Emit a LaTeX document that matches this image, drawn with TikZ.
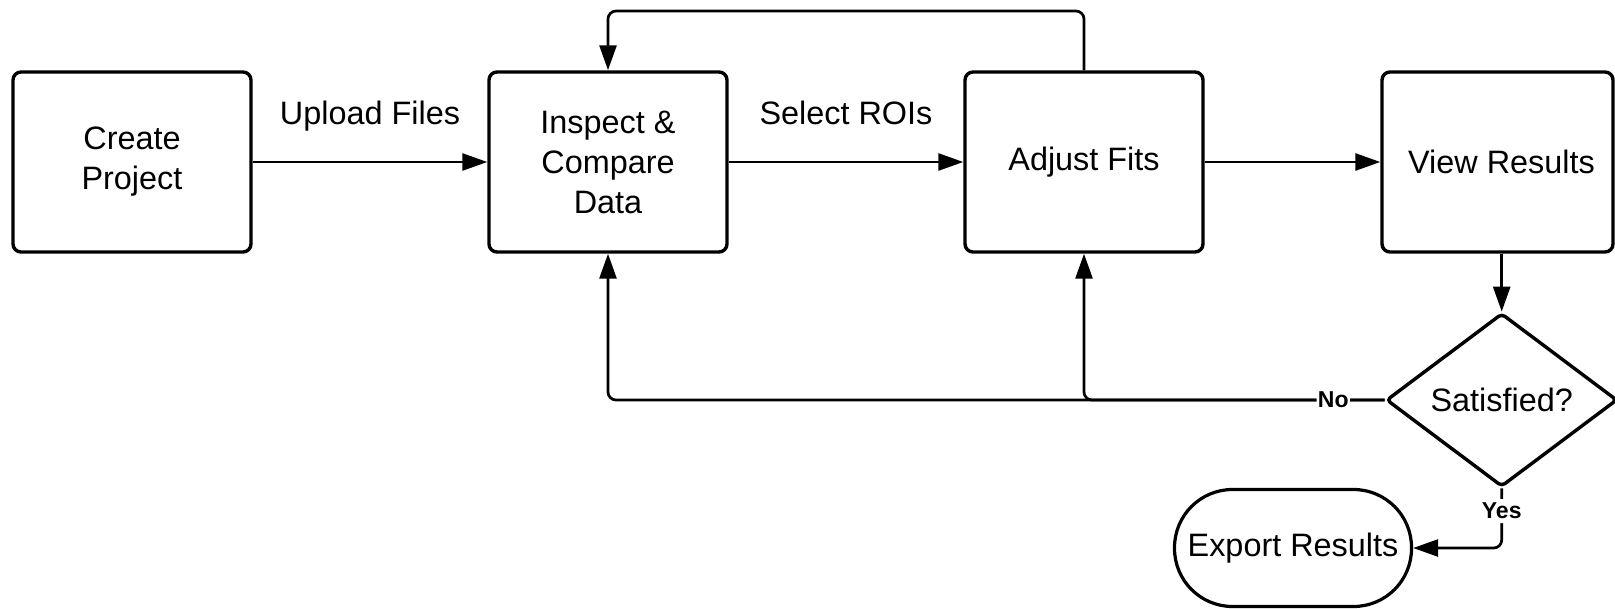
\documentclass[tikz,border=0pt]{standalone}
\usepackage{fontspec}
\setmainfont{Liberation Sans}
\usetikzlibrary{arrows.meta,shapes.geometric}

\begin{document}
\begin{tikzpicture}[x=0.5pt,y=-0.5pt,
  txt/.style={font=\fontsize{16.2}{20}\selectfont},
  stepbox/.style={txt, draw, line width=1.7pt, rounded corners=4pt,
    minimum width=119pt, minimum height=90pt, align=center, inner sep=2pt},
  decision/.style={txt, diamond, draw, line width=1.7pt, rounded corners=2pt,
    minimum width=115.5pt, minimum height=86.7pt, aspect=1.33, inner sep=0pt},
  terminal/.style={txt, draw, line width=1.6pt, rounded corners=29pt,
    minimum width=118.5pt, minimum height=58.5pt},
  conn/.style={line width=1.35pt, rounded corners=4pt,
    -{Triangle[length=12.5pt,width=8.5pt]}},
  flowlabel/.style={txt, anchor=base, yshift=18.5pt},
  answer/.style={font=\bfseries\fontsize{11.5}{13}\selectfont, fill=white,
    inner xsep=0.6pt, inner ysep=2pt},
]
\useasboundingbox (0,0) rectangle (1615,609);

% process steps
\node[stepbox] (create)  at (132,162)  {Create\\Project};
\node[stepbox] (inspect) at (608,162)  {Inspect \&\\Compare\\Data};
\node[stepbox] (adjust)  at (1084,162) {Adjust Fits};
\node[stepbox, minimum width=115.5pt] (view) at (1497.5,162) {\hspace*{4pt}View Results};
\node[decision] (sat) at (1501.7,400) {Satisfied?};
\node[terminal] (export) at (1293,548) {Export Results};
\coordinate (top) at (0,11);

% main flow
\draw[conn] (create) -- node[flowlabel, midway] (upl) {Upload Files} (inspect);
\draw[conn] (inspect) -- node[flowlabel, midway] (roi) {Select ROIs} (adjust);
\draw[conn] (adjust) -- (view);
\draw[conn] (view.south -| sat.north) -- (sat.north);

% loop back from the fits to the data
\draw[conn] (adjust.north) -- (adjust.north |- top) -- (inspect.north |- top) -- (inspect.north);

% decision outcomes
\draw[conn] (sat.west) -| (adjust.south);
\draw[conn] (sat.west) -| node[answer, pos=0.033] (no) {No} (inspect.south);
\draw[conn] (sat.south) |- node[answer, pos=0.19] (yes) {Yes} (export.east);
\end{tikzpicture}
\end{document}
